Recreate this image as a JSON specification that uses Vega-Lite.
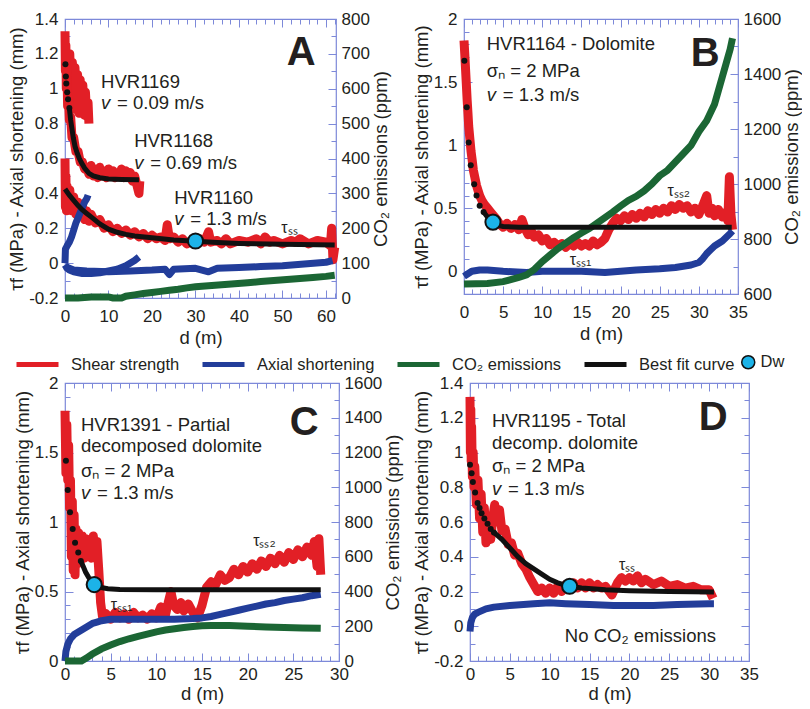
{
"$schema":"https://vega.github.io/schema/vega-lite/v6.json",
"padding":{"left":7,"top":9,"right":0,"bottom":0},
"background":"white",
"datasets":{
"Ared":[
{"s":"a","d":0.5,"v":1.22},{"s":"a","d":0.8,"v":1.05},{"s":"a","d":1.1,"v":1.2},{"s":"a","d":1.4,"v":0.95},{"s":"a","d":1.7,"v":1.15},{"s":"a","d":2.0,"v":0.9},{"s":"a","d":2.3,"v":1.12},{"s":"a","d":2.6,"v":0.88},{"s":"a","d":2.9,"v":1.08},{"s":"a","d":3.2,"v":0.86},{"s":"a","d":3.5,"v":1.05},{"s":"a","d":3.8,"v":0.86},{"s":"a","d":4.1,"v":1.02},{"s":"a","d":4.4,"v":0.85},{"s":"a","d":4.7,"v":0.98},{"s":"a","d":5.0,"v":0.84},{"s":"a","d":5.3,"v":0.92},{"s":"a","d":5.5,"v":0.8},
{"s":"b","d":0,"v":1.33},{"s":"b","d":0.1,"v":1.1},{"s":"b","d":0.2,"v":1.25},{"s":"b","d":0.3,"v":1.0},{"s":"b","d":0.45,"v":1.12},{"s":"b","d":0.6,"v":0.9},{"s":"b","d":0.8,"v":0.95},{"s":"b","d":1.0,"v":0.82},{"s":"b","d":1.3,"v":0.84},{"s":"b","d":1.6,"v":0.72},{"s":"b","d":2.0,"v":0.72},{"s":"b","d":2.5,"v":0.64},{"s":"b","d":3.0,"v":0.64},{"s":"b","d":3.5,"v":0.58},{"s":"b","d":4,"v":0.58},{"s":"b","d":4.5,"v":0.54},{"s":"b","d":5,"v":0.55},{"s":"b","d":5.5,"v":0.51},{"s":"b","d":6,"v":0.56},{"s":"b","d":6.5,"v":0.5},{"s":"b","d":7,"v":0.54},{"s":"b","d":7.5,"v":0.49},{"s":"b","d":8,"v":0.55},{"s":"b","d":8.5,"v":0.5},{"s":"b","d":9,"v":0.53},{"s":"b","d":9.5,"v":0.49},{"s":"b","d":10,"v":0.54},{"s":"b","d":10.5,"v":0.5},{"s":"b","d":11,"v":0.53},{"s":"b","d":11.5,"v":0.49},{"s":"b","d":12,"v":0.52},{"s":"b","d":12.5,"v":0.5},{"s":"b","d":13,"v":0.54},{"s":"b","d":13.5,"v":0.49},{"s":"b","d":14,"v":0.53},{"s":"b","d":14.5,"v":0.5},{"s":"b","d":15,"v":0.52},{"s":"b","d":15.5,"v":0.47},{"s":"b","d":16,"v":0.5},{"s":"b","d":16.5,"v":0.45},{"s":"b","d":17,"v":0.4},{"s":"b","d":17.2,"v":0.47},
{"s":"c","d":0,"v":0.6},{"s":"c","d":0.1,"v":0.32},{"s":"c","d":0.2,"v":0.5},{"s":"c","d":0.35,"v":0.3},{"s":"c","d":0.5,"v":0.44},{"s":"c","d":0.8,"v":0.33},{"s":"c","d":1.1,"v":0.42},{"s":"c","d":1.5,"v":0.3},{"s":"c","d":2,"v":0.38},{"s":"c","d":2.5,"v":0.28},{"s":"c","d":3,"v":0.35},{"s":"c","d":3.5,"v":0.27},{"s":"c","d":4,"v":0.33},{"s":"c","d":4.5,"v":0.25},{"s":"c","d":5,"v":0.3},{"s":"c","d":5.5,"v":0.24},{"s":"c","d":6,"v":0.28},{"s":"c","d":7,"v":0.23},{"s":"c","d":8,"v":0.25},{"s":"c","d":9,"v":0.2},{"s":"c","d":10,"v":0.22},{"s":"c","d":11,"v":0.18},{"s":"c","d":12,"v":0.2},{"s":"c","d":13,"v":0.17},{"s":"c","d":14,"v":0.19},{"s":"c","d":15,"v":0.16},{"s":"c","d":16,"v":0.18},{"s":"c","d":17,"v":0.15},{"s":"c","d":18,"v":0.17},{"s":"c","d":19,"v":0.14},{"s":"c","d":20,"v":0.16},{"s":"c","d":21,"v":0.14},{"s":"c","d":22,"v":0.15},{"s":"c","d":23,"v":0.13},{"s":"c","d":23.5,"v":0.22},{"s":"c","d":24,"v":0.14},{"s":"c","d":25,"v":0.15},{"s":"c","d":26,"v":0.12},{"s":"c","d":27,"v":0.14},{"s":"c","d":28,"v":0.11},{"s":"c","d":29,"v":0.13},{"s":"c","d":30,"v":0.11},{"s":"c","d":31,"v":0.14},{"s":"c","d":32,"v":0.12},{"s":"c","d":33,"v":0.18},{"s":"c","d":33.5,"v":0.12},{"s":"c","d":35,"v":0.13},{"s":"c","d":36,"v":0.11},{"s":"c","d":37,"v":0.14},{"s":"c","d":38,"v":0.11},{"s":"c","d":40,"v":0.13},{"s":"c","d":42,"v":0.12},{"s":"c","d":44,"v":0.14},{"s":"c","d":45,"v":0.11},{"s":"c","d":46,"v":0.15},{"s":"c","d":47,"v":0.12},{"s":"c","d":48,"v":0.13},{"s":"c","d":50,"v":0.11},{"s":"c","d":52,"v":0.13},{"s":"c","d":53,"v":0.12},{"s":"c","d":54,"v":0.14},{"s":"c","d":56,"v":0.11},{"s":"c","d":58,"v":0.13},{"s":"c","d":60,"v":0.12},{"s":"c","d":61,"v":0.1},{"s":"c","d":61.3,"v":0.2},{"s":"c","d":61.6,"v":0.02},{"s":"c","d":62,"v":0.09}],
"Ablue":[
{"s":"a","d":0,"v":0.0},{"s":"a","d":0.1,"v":0.08},{"s":"a","d":0.5,"v":0.1},{"s":"a","d":1,"v":0.12},{"s":"a","d":1.5,"v":0.15},{"s":"a","d":2,"v":0.19},{"s":"a","d":2.5,"v":0.23},{"s":"a","d":3,"v":0.26},{"s":"a","d":3.5,"v":0.29},{"s":"a","d":4,"v":0.32},{"s":"a","d":4.5,"v":0.35},{"s":"a","d":5,"v":0.37},{"s":"a","d":5.3,"v":0.39},
{"s":"b","d":0,"v":-0.01},{"s":"b","d":0.5,"v":-0.03},{"s":"b","d":1,"v":-0.04},{"s":"b","d":2,"v":-0.05},{"s":"b","d":4,"v":-0.06},{"s":"b","d":6,"v":-0.06},{"s":"b","d":8,"v":-0.055},{"s":"b","d":10,"v":-0.045},{"s":"b","d":12,"v":-0.035},{"s":"b","d":14,"v":-0.015},{"s":"b","d":16,"v":0.015},{"s":"b","d":17,"v":0.035},
{"s":"c","d":0,"v":-0.02},{"s":"c","d":2,"v":-0.04},{"s":"c","d":5,"v":-0.045},{"s":"c","d":10,"v":-0.05},{"s":"c","d":15,"v":-0.045},{"s":"c","d":20,"v":-0.04},{"s":"c","d":23,"v":-0.035},{"s":"c","d":24,"v":-0.065},{"s":"c","d":25,"v":-0.035},{"s":"c","d":30,"v":-0.03},{"s":"c","d":33,"v":-0.05},{"s":"c","d":35,"v":-0.03},{"s":"c","d":40,"v":-0.025},{"s":"c","d":45,"v":-0.02},{"s":"c","d":50,"v":-0.015},{"s":"c","d":55,"v":-0.005},{"s":"c","d":60,"v":0.005},{"s":"c","d":61.5,"v":0.015}],
"Agreen":[{"d":0,"v":0},{"d":3,"v":0},{"d":6,"v":3},{"d":10,"v":3},{"d":11,"v":0},{"d":13,"v":0},{"d":14,"v":5},{"d":16,"v":9},{"d":18,"v":13},{"d":20,"v":16},{"d":22,"v":19},{"d":24,"v":22},{"d":26,"v":25},{"d":28,"v":29},{"d":30,"v":32},{"d":33,"v":35},{"d":36,"v":38},{"d":39,"v":41},{"d":42,"v":44},{"d":45,"v":47},{"d":48,"v":50},{"d":51,"v":53},{"d":54,"v":56},{"d":57,"v":59},{"d":60,"v":62},{"d":62,"v":65}],
"Afit":[
{"s":"b","d":1.0,"v":0.89},{"s":"b","d":1.3,"v":0.82},{"s":"b","d":1.6,"v":0.77},{"s":"b","d":1.9,"v":0.72},{"s":"b","d":2.3,"v":0.67},{"s":"b","d":2.8,"v":0.63},{"s":"b","d":3.3,"v":0.6},{"s":"b","d":3.8,"v":0.575},{"s":"b","d":4.5,"v":0.545},{"s":"b","d":5.5,"v":0.515},{"s":"b","d":6.5,"v":0.5},{"s":"b","d":8,"v":0.49},{"s":"b","d":10,"v":0.483},{"s":"b","d":13,"v":0.48},{"s":"b","d":17,"v":0.478},
{"s":"c","d":0,"v":0.425},{"s":"c","d":1,"v":0.39},{"s":"c","d":2,"v":0.36},{"s":"c","d":3,"v":0.33},{"s":"c","d":4,"v":0.305},{"s":"c","d":5,"v":0.285},{"s":"c","d":6,"v":0.265},{"s":"c","d":7,"v":0.245},{"s":"c","d":8,"v":0.225},{"s":"c","d":10,"v":0.195},{"s":"c","d":12,"v":0.177},{"s":"c","d":14,"v":0.165},{"s":"c","d":16,"v":0.156},{"s":"c","d":20,"v":0.145},{"s":"c","d":25,"v":0.132},{"s":"c","d":30,"v":0.125},{"s":"c","d":35,"v":0.118},{"s":"c","d":40,"v":0.113},{"s":"c","d":50,"v":0.108},{"s":"c","d":62,"v":0.104}],
"Adots":[{"d":0.1,"v":1.14},{"d":0.2,"v":1.07},{"d":0.3,"v":1.03},{"d":0.5,"v":0.98},{"d":0.7,"v":0.94},{"d":1.0,"v":0.89}],
"Acyan":[{"d":30,"v":0.127}],
"Atxt":[{"t":"HVR1169","d":8.3,"v":1.04},{"t":"HVR1168","d":15.9,"v":0.70},{"t":"HVR1160","d":25.1,"v":0.374}],
"Avi":[{"d":8.3,"v":0.918},{"d":15.9,"v":0.574},{"d":25.1,"v":0.253}],
"Avr":[{"t":"= 0.09 m/s","d":8.3,"v":0.918},{"t":"= 0.69 m/s","d":15.9,"v":0.574},{"t":"= 1.3 m/s","d":25.1,"v":0.253}],
"Atau":[{"t":"τₛₛ","d":49.7,"v":0.2}],
"Alet":[{"t":"A","d":54.3,"v":1.205}],
"Bred":[{"d":0,"v":1.83},{"d":0.1,"v":1.72},{"d":0.2,"v":1.6},{"d":0.3,"v":1.48},{"d":0.4,"v":1.36},{"d":0.5,"v":1.26},{"d":0.6,"v":1.15},{"d":0.75,"v":1.05},{"d":0.9,"v":0.95},{"d":1.05,"v":0.88},{"d":1.2,"v":0.8},{"d":1.4,"v":0.74},{"d":1.6,"v":0.68},{"d":1.8,"v":0.64},{"d":2.0,"v":0.6},{"d":2.3,"v":0.56},{"d":2.6,"v":0.53},{"d":3.0,"v":0.5},{"d":3.4,"v":0.47},{"d":3.8,"v":0.44},{"d":4.2,"v":0.41},{"d":4.6,"v":0.37},{"d":5.0,"v":0.35},{"d":5.5,"v":0.38},{"d":6.0,"v":0.34},{"d":6.5,"v":0.37},{"d":7.0,"v":0.33},{"d":7.4,"v":0.41},{"d":7.8,"v":0.34},{"d":8.2,"v":0.29},{"d":8.6,"v":0.32},{"d":9.0,"v":0.27},{"d":9.5,"v":0.29},{"d":10,"v":0.24},{"d":10.5,"v":0.26},{"d":11,"v":0.21},{"d":11.5,"v":0.23},{"d":12,"v":0.2},{"d":12.5,"v":0.22},{"d":13,"v":0.19},{"d":13.5,"v":0.22},{"d":14,"v":0.2},{"d":14.5,"v":0.23},{"d":15,"v":0.2},{"d":15.5,"v":0.22},{"d":16,"v":0.2},{"d":16.5,"v":0.24},{"d":17,"v":0.21},{"d":17.5,"v":0.23},{"d":18,"v":0.26},{"d":18.5,"v":0.33},{"d":19,"v":0.38},{"d":19.5,"v":0.42},{"d":20,"v":0.4},{"d":20.5,"v":0.44},{"d":21,"v":0.41},{"d":21.5,"v":0.45},{"d":22,"v":0.42},{"d":22.5,"v":0.46},{"d":23,"v":0.43},{"d":23.5,"v":0.48},{"d":24,"v":0.45},{"d":24.5,"v":0.49},{"d":25,"v":0.46},{"d":25.5,"v":0.5},{"d":26,"v":0.47},{"d":26.5,"v":0.52},{"d":27,"v":0.49},{"d":27.5,"v":0.53},{"d":28,"v":0.5},{"d":28.5,"v":0.52},{"d":29,"v":0.47},{"d":29.5,"v":0.5},{"d":30,"v":0.45},{"d":30.5,"v":0.52},{"d":31,"v":0.6},{"d":31.3,"v":0.46},{"d":31.7,"v":0.5},{"d":32,"v":0.44},{"d":32.5,"v":0.49},{"d":33,"v":0.43},{"d":33.5,"v":0.47},{"d":33.7,"v":0.4},{"d":33.9,"v":0.75},{"d":34.1,"v":0.45},{"d":34.3,"v":0.33}],
"Bblue":[{"d":0,"v":-0.04},{"d":0.5,"v":-0.02},{"d":1,"v":0.0},{"d":2,"v":0.01},{"d":3,"v":0.01},{"d":5,"v":0.0},{"d":8,"v":-0.01},{"d":10,"v":0.0},{"d":15,"v":0.0},{"d":18,"v":-0.01},{"d":20,"v":0.0},{"d":22,"v":0.01},{"d":25,"v":0.02},{"d":27,"v":0.03},{"d":29,"v":0.05},{"d":30,"v":0.07},{"d":30.5,"v":0.1},{"d":31,"v":0.14},{"d":31.5,"v":0.17},{"d":32,"v":0.2},{"d":33,"v":0.24},{"d":33.5,"v":0.27},{"d":34,"v":0.3},{"d":34.3,"v":0.32}],
"Bgreen":[{"d":0,"v":636},{"d":3,"v":638},{"d":5,"v":645},{"d":7,"v":660},{"d":8,"v":670},{"d":9,"v":690},{"d":10,"v":718},{"d":11,"v":742},{"d":12,"v":765},{"d":13,"v":785},{"d":14,"v":805},{"d":15,"v":822},{"d":16,"v":838},{"d":17,"v":858},{"d":18,"v":878},{"d":19,"v":898},{"d":20,"v":920},{"d":21,"v":940},{"d":22,"v":955},{"d":23,"v":975},{"d":24,"v":1000},{"d":25,"v":1030},{"d":26,"v":1050},{"d":27,"v":1080},{"d":28,"v":1110},{"d":29,"v":1140},{"d":30,"v":1190},{"d":31,"v":1230},{"d":32,"v":1290},{"d":32.5,"v":1340},{"d":33,"v":1390},{"d":33.5,"v":1440},{"d":34,"v":1490},{"d":34.3,"v":1530}],
"Bfit":[{"d":2.5,"v":0.47},{"d":3.0,"v":0.43},{"d":3.7,"v":0.39},{"d":4.2,"v":0.365},{"d":5,"v":0.355},{"d":7,"v":0.35},{"d":34.2,"v":0.35}],
"Bdots":[{"d":0.05,"v":1.67},{"d":0.35,"v":1.3},{"d":0.6,"v":1.02},{"d":0.86,"v":0.84},{"d":1.3,"v":0.69},{"d":1.6,"v":0.6},{"d":2.0,"v":0.52},{"d":2.5,"v":0.47}],
"Bcyan":[{"d":3.7,"v":0.39}],
"Btxt":[{"t":"HVR1164 - Dolomite","d":2.9,"v":1.80},{"t":"σₙ = 2 MPa","d":2.9,"v":1.59}],
"Bvi":[{"d":2.9,"v":1.40}],
"Bvr":[{"t":"= 1.3 m/s","d":2.9,"v":1.40}],
"Btau":[{"t":"τₛₛ₂","d":26,"v":0.64},{"t":"τₛₛ₁","d":13.5,"v":0.09}],
"Blet":[{"t":"B","d":30.8,"v":1.72}],
"Cred":[{"d":0,"v":1.8},{"d":0.1,"v":1.35},{"d":0.2,"v":1.7},{"d":0.3,"v":1.3},{"d":0.4,"v":1.55},{"d":0.5,"v":1.1},{"d":0.6,"v":1.3},{"d":0.7,"v":0.75},{"d":0.8,"v":1.15},{"d":0.9,"v":0.65},{"d":1.0,"v":1.05},{"d":1.1,"v":0.62},{"d":1.2,"v":0.95},{"d":1.35,"v":0.7},{"d":1.5,"v":0.92},{"d":1.7,"v":0.72},{"d":1.9,"v":0.9},{"d":2.1,"v":0.74},{"d":2.3,"v":0.88},{"d":2.5,"v":0.76},{"d":2.7,"v":0.87},{"d":2.9,"v":0.74},{"d":3.1,"v":0.9},{"d":3.3,"v":0.78},{"d":3.5,"v":0.86},{"d":3.7,"v":0.65},{"d":3.9,"v":0.42},{"d":4.1,"v":0.32},{"d":4.5,"v":0.34},{"d":5,"v":0.3},{"d":5.5,"v":0.35},{"d":6,"v":0.31},{"d":6.5,"v":0.34},{"d":7,"v":0.3},{"d":7.5,"v":0.35},{"d":8,"v":0.31},{"d":8.5,"v":0.33},{"d":9,"v":0.3},{"d":9.5,"v":0.34},{"d":10,"v":0.31},{"d":10.5,"v":0.39},{"d":11,"v":0.33},{"d":11.3,"v":0.42},{"d":11.6,"v":0.5},{"d":11.9,"v":0.4},{"d":12.3,"v":0.37},{"d":12.7,"v":0.42},{"d":13,"v":0.36},{"d":13.5,"v":0.41},{"d":14,"v":0.35},{"d":14.5,"v":0.31},{"d":15,"v":0.4},{"d":15.5,"v":0.53},{"d":16,"v":0.57},{"d":16.5,"v":0.55},{"d":17,"v":0.62},{"d":17.5,"v":0.58},{"d":18,"v":0.6},{"d":18.5,"v":0.66},{"d":19,"v":0.62},{"d":19.5,"v":0.68},{"d":20,"v":0.64},{"d":20.5,"v":0.7},{"d":21,"v":0.66},{"d":21.5,"v":0.72},{"d":22,"v":0.68},{"d":22.5,"v":0.74},{"d":23,"v":0.7},{"d":23.5,"v":0.76},{"d":24,"v":0.71},{"d":24.5,"v":0.78},{"d":25,"v":0.73},{"d":25.5,"v":0.8},{"d":26,"v":0.75},{"d":26.5,"v":0.82},{"d":27,"v":0.76},{"d":27.3,"v":0.86},{"d":27.6,"v":0.68},{"d":27.8,"v":0.88},{"d":28,"v":0.62}],
"Cblue":[{"d":0,"v":0},{"d":0.1,"v":0.07},{"d":0.3,"v":0.12},{"d":0.6,"v":0.16},{"d":1,"v":0.19},{"d":1.5,"v":0.21},{"d":2,"v":0.23},{"d":2.5,"v":0.25},{"d":3,"v":0.27},{"d":3.5,"v":0.28},{"d":4,"v":0.29},{"d":5,"v":0.3},{"d":7,"v":0.3},{"d":10,"v":0.3},{"d":12,"v":0.3},{"d":14,"v":0.305},{"d":15,"v":0.31},{"d":16,"v":0.32},{"d":17,"v":0.335},{"d":18,"v":0.35},{"d":19,"v":0.365},{"d":20,"v":0.38},{"d":21,"v":0.395},{"d":22,"v":0.41},{"d":23,"v":0.42},{"d":24,"v":0.435},{"d":25,"v":0.445},{"d":26,"v":0.455},{"d":27,"v":0.47},{"d":28,"v":0.48}],
"Cgreen":[{"d":0,"v":0},{"d":1.8,"v":0},{"d":2.3,"v":15},{"d":3,"v":40},{"d":4,"v":70},{"d":5,"v":92},{"d":6,"v":112},{"d":7,"v":128},{"d":8,"v":142},{"d":9,"v":155},{"d":10,"v":168},{"d":11,"v":178},{"d":12,"v":186},{"d":13,"v":193},{"d":14,"v":199},{"d":15,"v":203},{"d":16,"v":205},{"d":17,"v":205},{"d":18,"v":204},{"d":20,"v":200},{"d":22,"v":196},{"d":24,"v":193},{"d":26,"v":190},{"d":28,"v":188}],
"Cfit":[{"d":1.73,"v":0.72},{"d":2.0,"v":0.68},{"d":2.25,"v":0.64},{"d":2.6,"v":0.6},{"d":3.2,"v":0.55},{"d":3.8,"v":0.53},{"d":4.7,"v":0.52},{"d":6,"v":0.515},{"d":10,"v":0.513},{"d":28,"v":0.512}],
"Cdots":[{"d":0.1,"v":1.44},{"d":0.3,"v":1.23},{"d":0.55,"v":1.07},{"d":0.84,"v":0.95},{"d":1.1,"v":0.85},{"d":1.45,"v":0.78},{"d":1.73,"v":0.72}],
"Ccyan":[{"d":3.2,"v":0.55}],
"Ctxt":[{"t":"HVR1391 - Partial","d":1.75,"v":1.70},{"t":"decomposed dolomite","d":1.75,"v":1.55},{"t":"σₙ = 2 MPa","d":1.75,"v":1.37}],
"Cvi":[{"d":1.75,"v":1.21}],
"Cvr":[{"t":"= 1.3 m/s","d":1.75,"v":1.21}],
"Ctau":[{"t":"τₛₛ₂","d":20.6,"v":0.86},{"t":"τₛₛ₁","d":5.0,"v":0.40}],
"Clet":[{"t":"C","d":26.2,"v":1.71}],
"Dred":[{"d":0,"v":1.32},{"d":0.05,"v":1.0},{"d":0.1,"v":1.25},{"d":0.15,"v":0.95},{"d":0.2,"v":1.15},{"d":0.3,"v":0.86},{"d":0.4,"v":1.0},{"d":0.5,"v":0.8},{"d":0.6,"v":0.92},{"d":0.8,"v":0.7},{"d":1.0,"v":0.84},{"d":1.2,"v":0.62},{"d":1.4,"v":0.76},{"d":1.6,"v":0.54},{"d":1.8,"v":0.68},{"d":2.0,"v":0.48},{"d":2.3,"v":0.62},{"d":2.6,"v":0.5},{"d":2.9,"v":0.64},{"d":3.1,"v":0.7},{"d":3.4,"v":0.6},{"d":3.7,"v":0.67},{"d":4.0,"v":0.55},{"d":4.4,"v":0.56},{"d":4.8,"v":0.47},{"d":5.2,"v":0.48},{"d":5.6,"v":0.41},{"d":6.0,"v":0.42},{"d":6.5,"v":0.36},{"d":7,"v":0.33},{"d":7.5,"v":0.28},{"d":8,"v":0.24},{"d":8.5,"v":0.2},{"d":9,"v":0.22},{"d":9.5,"v":0.19},{"d":10,"v":0.22},{"d":10.5,"v":0.19},{"d":11,"v":0.23},{"d":11.5,"v":0.2},{"d":12,"v":0.24},{"d":12.5,"v":0.21},{"d":13,"v":0.25},{"d":13.5,"v":0.22},{"d":14,"v":0.25},{"d":14.5,"v":0.22},{"d":15,"v":0.25},{"d":15.5,"v":0.22},{"d":16,"v":0.24},{"d":16.5,"v":0.22},{"d":17,"v":0.23},{"d":17.8,"v":0.18},{"d":18.5,"v":0.25},{"d":19,"v":0.28},{"d":19.5,"v":0.26},{"d":20,"v":0.28},{"d":20.5,"v":0.26},{"d":21,"v":0.29},{"d":21.5,"v":0.25},{"d":22,"v":0.27},{"d":23,"v":0.24},{"d":24,"v":0.26},{"d":25,"v":0.23},{"d":26,"v":0.24},{"d":27,"v":0.22},{"d":28,"v":0.23},{"d":29,"v":0.21},{"d":30,"v":0.21},{"d":30.5,"v":0.16}],
"Dblue":[{"d":0,"v":-0.03},{"d":0.1,"v":0.02},{"d":0.3,"v":0.05},{"d":0.6,"v":0.07},{"d":1,"v":0.08},{"d":2,"v":0.1},{"d":3,"v":0.11},{"d":5,"v":0.12},{"d":8,"v":0.13},{"d":10,"v":0.135},{"d":12,"v":0.13},{"d":15,"v":0.125},{"d":18,"v":0.12},{"d":20,"v":0.12},{"d":23,"v":0.12},{"d":26,"v":0.125},{"d":30,"v":0.13},{"d":30.6,"v":0.13}],
"Dfit":[{"d":3,"v":0.54},{"d":4,"v":0.5},{"d":5,"v":0.45},{"d":6,"v":0.4},{"d":7,"v":0.36},{"d":8,"v":0.33},{"d":9,"v":0.3},{"d":10,"v":0.27},{"d":11,"v":0.25},{"d":12.5,"v":0.23},{"d":14,"v":0.22},{"d":17,"v":0.21},{"d":20,"v":0.205},{"d":25,"v":0.2},{"d":30.6,"v":0.197}],
"Ddots":[{"d":0,"v":0.93},{"d":0.2,"v":0.88},{"d":0.36,"v":0.83},{"d":0.64,"v":0.77},{"d":0.95,"v":0.71},{"d":1.2,"v":0.68},{"d":1.45,"v":0.65},{"d":1.8,"v":0.62},{"d":2.2,"v":0.59},{"d":2.6,"v":0.56},{"d":3.0,"v":0.54}],
"Dcyan":[{"d":12.5,"v":0.23}],
"Dtxt":[{"t":"HVR1195 - Total","d":2.75,"v":1.18},{"t":"decomp. dolomite","d":2.75,"v":1.055},{"t":"σₙ = 2 MPa","d":2.75,"v":0.92},{"t":"No CO₂ emissions","d":11.9,"v":-0.055}],
"Dvi":[{"d":2.75,"v":0.79}],
"Dvr":[{"t":"= 1.3 m/s","d":2.75,"v":0.79}],
"Dtau":[{"t":"τₛₛ","d":18.7,"v":0.35}],
"Dlet":[{"t":"D","d":30.5,"v":1.2}]
},
"vconcat":[
{"hconcat":[
{"width":271,"height":279,
"resolve":{"scale":{"y":"independent"},"axis":{"x":"independent","y":"independent"}},
"layer":[
{"data":{"name":"Ared"},"mark":{"type":"line","strokeWidth":9,"strokeJoin":"round"},
"encoding":{
"x":{"field":"d","type":"quantitative","scale":{"domain":[0,62.3],"nice":false,"zero":false},"axis":{"orient":"bottom","values":[0,10,20,30,40,50,60],"tickSize":-8,"labelPadding":18,"labelExpr":"'' + datum.value","title":"d (m)","titlePadding":4}},
"y":{"field":"v","type":"quantitative","scale":{"domain":[-0.2,1.4],"nice":false,"zero":false},"axis":{"orient":"left","values":[-0.2,0,0.2,0.4,0.6,0.8,1,1.2,1.4],"tickSize":-8,"labelPadding":15,"labelExpr":"'' + datum.value","title":"τf (MPa) - Axial shortening (mm)","titlePadding":2}},
"detail":{"field":"s"},
"color":{"datum":"Shear strength","scale":{"domain":["Shear strength","Axial shortening","CO₂ emissions","Best fit curve"],"range":["#e21f26","#223d9a","#1b6634","#111111"]},
"legend":{"orient":"none","legendX":-51,"legendY":322,"direction":"horizontal","gridAlign":"none","title":null,"symbolType":"stroke","symbolSize":1764,"symbolStrokeWidth":5,"labelFontSize":16.5,"labelFont":"Liberation Sans","labelColor":"#231f20","labelOffset":10,"columnPadding":12,"padding":0}}}},
{"data":{"name":"Ablue"},"mark":{"type":"line","strokeWidth":7,"strokeJoin":"round"},
"encoding":{
"x":{"field":"d","type":"quantitative","scale":{"domain":[0,62.3],"nice":false,"zero":false},"axis":{"orient":"top","values":[0,10,20,30,40,50,60],"tickSize":-8,"labels":false,"title":null}},
"y":{"field":"v","type":"quantitative","scale":{"domain":[-0.2,1.4],"nice":false,"zero":false},"axis":{"orient":"left","values":[-0.2,-0.1,0,0.1,0.2,0.3,0.4,0.5,0.6,0.7,0.8,0.9,1,1.1,1.2,1.3,1.4],"tickSize":-5,"labels":false,"title":null}},
"detail":{"field":"s"},
"color":{"datum":"Axial shortening","scale":{"domain":["Shear strength","Axial shortening","CO₂ emissions","Best fit curve"],"range":["#e21f26","#223d9a","#1b6634","#111111"]}}}},
{"data":{"name":"Agreen"},"mark":{"type":"line","strokeWidth":7},
"encoding":{
"x":{"field":"d","type":"quantitative","scale":{"domain":[0,62.3],"nice":false,"zero":false},"axis":{"orient":"bottom","values":[0,2,4,6,8,10,12,14,16,18,20,22,24,26,28,30,32,34,36,38,40,42,44,46,48,50,52,54,56,58,60,62],"tickSize":-5,"labels":false,"title":null}},
"y":{"field":"v","type":"quantitative","scale":{"domain":[0,800],"nice":false,"zero":false},"axis":{"orient":"right","values":[0,100,200,300,400,500,600,700,800],"tickSize":-8,"labelPadding":13,"labelExpr":"'' + datum.value","title":"CO₂ emissions (ppm)","titleAngle":270,"titleBaseline":"top","titlePadding":2}},
"color":{"datum":"CO₂ emissions","scale":{"domain":["Shear strength","Axial shortening","CO₂ emissions","Best fit curve"],"range":["#e21f26","#223d9a","#1b6634","#111111"]}}}},
{"data":{"name":"Agreen"},"mark":{"type":"line","opacity":0},
"encoding":{
"x":{"field":"d","type":"quantitative","scale":{"domain":[0,62.3],"nice":false,"zero":false},"axis":{"orient":"top","values":[0,2,4,6,8,10,12,14,16,18,20,22,24,26,28,30,32,34,36,38,40,42,44,46,48,50,52,54,56,58,60,62],"tickSize":-5,"labels":false,"title":null}},
"y":{"field":"v","type":"quantitative","scale":{"domain":[0,800],"nice":false,"zero":false},"axis":{"orient":"right","values":[0,50,100,150,200,250,300,350,400,450,500,550,600,650,700,750,800],"tickSize":-5,"labels":false,"title":null}}}},
{"data":{"name":"Afit"},"mark":{"type":"line","strokeWidth":5},
"encoding":{
"x":{"field":"d","type":"quantitative","scale":{"domain":[0,62.3],"nice":false,"zero":false},"axis":null},
"y":{"field":"v","type":"quantitative","scale":{"domain":[-0.2,1.4],"nice":false,"zero":false},"axis":null},
"detail":{"field":"s"},
"color":{"datum":"Best fit curve","scale":{"domain":["Shear strength","Axial shortening","CO₂ emissions","Best fit curve"],"range":["#e21f26","#223d9a","#1b6634","#111111"]}}}},
{"data":{"name":"Adots"},"mark":{"type":"point","filled":true,"size":36,"opacity":1,"fill":"#111111"},
"encoding":{
"x":{"field":"d","type":"quantitative","scale":{"domain":[0,62.3],"nice":false,"zero":false},"axis":null},
"y":{"field":"v","type":"quantitative","scale":{"domain":[-0.2,1.4],"nice":false,"zero":false},"axis":null}}},
{"data":{"name":"Acyan"},"mark":{"type":"point","filled":true,"size":230,"opacity":1,"fill":"#1cb3e8","stroke":"#111111","strokeWidth":2},
"encoding":{
"x":{"field":"d","type":"quantitative","scale":{"domain":[0,62.3],"nice":false,"zero":false},"axis":null},
"y":{"field":"v","type":"quantitative","scale":{"domain":[-0.2,1.4],"nice":false,"zero":false},"axis":null},
"shape":{"datum":"Dw","scale":{"domain":["Dw"],"range":["circle"]},
"legend":{"orient":"none","legendX":675,"legendY":335,"title":null,"symbolSize":170,"labelFontSize":16.5,"labelFont":"Liberation Sans","labelColor":"#231f20","labelOffset":4,"padding":0}}}},
{"data":{"name":"Atxt"},"mark":{"type":"text","font":"Liberation Sans","fontSize":18.5,"align":"left","baseline":"middle","color":"#231f20"},
"encoding":{"x":{"field":"d","type":"quantitative","scale":{"domain":[0,62.3],"nice":false,"zero":false},"axis":null},"y":{"field":"v","type":"quantitative","scale":{"domain":[-0.2,1.4],"nice":false,"zero":false},"axis":null},"text":{"field":"t"}}},
{"data":{"name":"Avi"},"mark":{"type":"text","font":"Liberation Sans","fontSize":18.5,"fontStyle":"italic","align":"left","baseline":"middle","color":"#231f20"},
"encoding":{"x":{"field":"d","type":"quantitative","scale":{"domain":[0,62.3],"nice":false,"zero":false},"axis":null},"y":{"field":"v","type":"quantitative","scale":{"domain":[-0.2,1.4],"nice":false,"zero":false},"axis":null},"text":{"value":"v"}}},
{"data":{"name":"Avr"},"mark":{"type":"text","font":"Liberation Sans","fontSize":18.5,"align":"left","baseline":"middle","dx":16,"color":"#231f20"},
"encoding":{"x":{"field":"d","type":"quantitative","scale":{"domain":[0,62.3],"nice":false,"zero":false},"axis":null},"y":{"field":"v","type":"quantitative","scale":{"domain":[-0.2,1.4],"nice":false,"zero":false},"axis":null},"text":{"field":"t"}}},
{"data":{"name":"Atau"},"mark":{"type":"text","font":"Liberation Sans","fontSize":16,"align":"left","baseline":"middle","color":"#231f20"},
"encoding":{"x":{"field":"d","type":"quantitative","scale":{"domain":[0,62.3],"nice":false,"zero":false},"axis":null},"y":{"field":"v","type":"quantitative","scale":{"domain":[-0.2,1.4],"nice":false,"zero":false},"axis":null},"text":{"field":"t"}}},
{"data":{"name":"Alet"},"mark":{"type":"text","font":"Liberation Sans","fontSize":40,"fontWeight":"bold","align":"center","baseline":"middle","color":"#231f20"},
"encoding":{"x":{"field":"d","type":"quantitative","scale":{"domain":[0,62.3],"nice":false,"zero":false},"axis":null},"y":{"field":"v","type":"quantitative","scale":{"domain":[-0.2,1.4],"nice":false,"zero":false},"axis":null},"text":{"field":"t"}}}
]},
{"width":274,"height":275,
"resolve":{"scale":{"y":"independent"},"axis":{"x":"independent","y":"independent"}},
"layer":[
{"data":{"name":"Bred"},"mark":{"type":"line","strokeWidth":9,"strokeJoin":"round"},
"encoding":{
"x":{"field":"d","type":"quantitative","scale":{"domain":[0,35],"nice":false,"zero":false},"axis":{"orient":"bottom","values":[0,5,10,15,20,25,30,35],"tickSize":-8,"labelPadding":18,"labelExpr":"'' + datum.value","title":"d (m)","titlePadding":4}},
"y":{"field":"v","type":"quantitative","scale":{"domain":[-0.18,2],"nice":false,"zero":false},"axis":{"orient":"left","values":[0,0.5,1,1.5,2],"tickSize":-8,"labelPadding":15,"labelExpr":"'' + datum.value","title":"τf (MPa) - Axial shortening (mm)","titlePadding":2}},
"color":{"datum":"Shear strength","scale":{"domain":["Shear strength","Axial shortening","CO₂ emissions","Best fit curve"],"range":["#e21f26","#223d9a","#1b6634","#111111"]}}}},
{"data":{"name":"Bblue"},"mark":{"type":"line","strokeWidth":7,"strokeJoin":"round"},
"encoding":{
"x":{"field":"d","type":"quantitative","scale":{"domain":[0,35],"nice":false,"zero":false},"axis":{"orient":"top","values":[0,5,10,15,20,25,30,35],"tickSize":-8,"labels":false,"title":null}},
"y":{"field":"v","type":"quantitative","scale":{"domain":[-0.18,2],"nice":false,"zero":false},"axis":{"orient":"left","values":[-0.1,0,0.1,0.2,0.3,0.4,0.5,0.6,0.7,0.8,0.9,1,1.1,1.2,1.3,1.4,1.5,1.6,1.7,1.8,1.9,2],"tickSize":-5,"labels":false,"title":null}},
"color":{"datum":"Axial shortening","scale":{"domain":["Shear strength","Axial shortening","CO₂ emissions","Best fit curve"],"range":["#e21f26","#223d9a","#1b6634","#111111"]}}}},
{"data":{"name":"Bgreen"},"mark":{"type":"line","strokeWidth":7},
"encoding":{
"x":{"field":"d","type":"quantitative","scale":{"domain":[0,35],"nice":false,"zero":false},"axis":{"orient":"bottom","values":[0,1,2,3,4,5,6,7,8,9,10,11,12,13,14,15,16,17,18,19,20,21,22,23,24,25,26,27,28,29,30,31,32,33,34,35],"tickSize":-5,"labels":false,"title":null}},
"y":{"field":"v","type":"quantitative","scale":{"domain":[600,1600],"nice":false,"zero":false},"axis":{"orient":"right","values":[600,800,1000,1200,1400,1600],"tickSize":-8,"labelPadding":13,"labelExpr":"'' + datum.value","title":"CO₂ emissions (ppm)","titleAngle":270,"titleBaseline":"top","titlePadding":2}},
"color":{"datum":"CO₂ emissions","scale":{"domain":["Shear strength","Axial shortening","CO₂ emissions","Best fit curve"],"range":["#e21f26","#223d9a","#1b6634","#111111"]}}}},
{"data":{"name":"Bgreen"},"mark":{"type":"line","opacity":0},
"encoding":{
"x":{"field":"d","type":"quantitative","scale":{"domain":[0,35],"nice":false,"zero":false},"axis":{"orient":"top","values":[0,1,2,3,4,5,6,7,8,9,10,11,12,13,14,15,16,17,18,19,20,21,22,23,24,25,26,27,28,29,30,31,32,33,34,35],"tickSize":-5,"labels":false,"title":null}},
"y":{"field":"v","type":"quantitative","scale":{"domain":[600,1600],"nice":false,"zero":false},"axis":{"orient":"right","values":[600,700,800,900,1000,1100,1200,1300,1400,1500,1600],"tickSize":-5,"labels":false,"title":null}}}},
{"data":{"name":"Bfit"},"mark":{"type":"line","strokeWidth":5},
"encoding":{
"x":{"field":"d","type":"quantitative","scale":{"domain":[0,35],"nice":false,"zero":false},"axis":null},
"y":{"field":"v","type":"quantitative","scale":{"domain":[-0.18,2],"nice":false,"zero":false},"axis":null},
"color":{"datum":"Best fit curve","scale":{"domain":["Shear strength","Axial shortening","CO₂ emissions","Best fit curve"],"range":["#e21f26","#223d9a","#1b6634","#111111"]}}}},
{"data":{"name":"Bdots"},"mark":{"type":"point","filled":true,"size":36,"opacity":1,"fill":"#111111"},
"encoding":{
"x":{"field":"d","type":"quantitative","scale":{"domain":[0,35],"nice":false,"zero":false},"axis":null},
"y":{"field":"v","type":"quantitative","scale":{"domain":[-0.18,2],"nice":false,"zero":false},"axis":null}}},
{"data":{"name":"Bcyan"},"mark":{"type":"point","filled":true,"size":230,"opacity":1,"fill":"#1cb3e8","stroke":"#111111","strokeWidth":2},
"encoding":{
"x":{"field":"d","type":"quantitative","scale":{"domain":[0,35],"nice":false,"zero":false},"axis":null},
"y":{"field":"v","type":"quantitative","scale":{"domain":[-0.18,2],"nice":false,"zero":false},"axis":null},
"shape":{"datum":"Dw","scale":{"domain":["Dw"],"range":["circle"]}}}},
{"data":{"name":"Btxt"},"mark":{"type":"text","font":"Liberation Sans","fontSize":18.5,"align":"left","baseline":"middle","color":"#231f20"},
"encoding":{"x":{"field":"d","type":"quantitative","scale":{"domain":[0,35],"nice":false,"zero":false},"axis":null},"y":{"field":"v","type":"quantitative","scale":{"domain":[-0.18,2],"nice":false,"zero":false},"axis":null},"text":{"field":"t"}}},
{"data":{"name":"Bvi"},"mark":{"type":"text","font":"Liberation Sans","fontSize":18.5,"fontStyle":"italic","align":"left","baseline":"middle","color":"#231f20"},
"encoding":{"x":{"field":"d","type":"quantitative","scale":{"domain":[0,35],"nice":false,"zero":false},"axis":null},"y":{"field":"v","type":"quantitative","scale":{"domain":[-0.18,2],"nice":false,"zero":false},"axis":null},"text":{"value":"v"}}},
{"data":{"name":"Bvr"},"mark":{"type":"text","font":"Liberation Sans","fontSize":18.5,"align":"left","baseline":"middle","dx":16,"color":"#231f20"},
"encoding":{"x":{"field":"d","type":"quantitative","scale":{"domain":[0,35],"nice":false,"zero":false},"axis":null},"y":{"field":"v","type":"quantitative","scale":{"domain":[-0.18,2],"nice":false,"zero":false},"axis":null},"text":{"field":"t"}}},
{"data":{"name":"Btau"},"mark":{"type":"text","font":"Liberation Sans","fontSize":16,"align":"left","baseline":"middle","color":"#231f20"},
"encoding":{"x":{"field":"d","type":"quantitative","scale":{"domain":[0,35],"nice":false,"zero":false},"axis":null},"y":{"field":"v","type":"quantitative","scale":{"domain":[-0.18,2],"nice":false,"zero":false},"axis":null},"text":{"field":"t"}}},
{"data":{"name":"Blet"},"mark":{"type":"text","font":"Liberation Sans","fontSize":40,"fontWeight":"bold","align":"center","baseline":"middle","color":"#231f20"},
"encoding":{"x":{"field":"d","type":"quantitative","scale":{"domain":[0,35],"nice":false,"zero":false},"axis":null},"y":{"field":"v","type":"quantitative","scale":{"domain":[-0.18,2],"nice":false,"zero":false},"axis":null},"text":{"field":"t"}}}
]}
],"spacing":20},
{"hconcat":[
{"width":274,"height":278,
"resolve":{"scale":{"y":"independent"},"axis":{"x":"independent","y":"independent"}},
"layer":[
{"data":{"name":"Cred"},"mark":{"type":"line","strokeWidth":9,"strokeJoin":"round"},
"encoding":{
"x":{"field":"d","type":"quantitative","scale":{"domain":[0,30],"nice":false,"zero":false},"axis":{"orient":"bottom","values":[0,5,10,15,20,25,30],"tickSize":-8,"labelPadding":13,"labelExpr":"'' + datum.value","title":"d (m)","titlePadding":2}},
"y":{"field":"v","type":"quantitative","scale":{"domain":[0,2],"nice":false,"zero":false},"axis":{"orient":"left","values":[0,0.5,1,1.5,2],"tickSize":-8,"labelPadding":15,"labelExpr":"'' + datum.value","title":"τf (MPa) - Axial shortening (mm)","titlePadding":2}},
"color":{"datum":"Shear strength","scale":{"domain":["Shear strength","Axial shortening","CO₂ emissions","Best fit curve"],"range":["#e21f26","#223d9a","#1b6634","#111111"]}}}},
{"data":{"name":"Cblue"},"mark":{"type":"line","strokeWidth":7,"strokeJoin":"round"},
"encoding":{
"x":{"field":"d","type":"quantitative","scale":{"domain":[0,30],"nice":false,"zero":false},"axis":{"orient":"top","values":[0,5,10,15,20,25,30],"tickSize":-8,"labels":false,"title":null}},
"y":{"field":"v","type":"quantitative","scale":{"domain":[0,2],"nice":false,"zero":false},"axis":{"orient":"left","values":[0,0.1,0.2,0.3,0.4,0.5,0.6,0.7,0.8,0.9,1,1.1,1.2,1.3,1.4,1.5,1.6,1.7,1.8,1.9,2],"tickSize":-5,"labels":false,"title":null}},
"color":{"datum":"Axial shortening","scale":{"domain":["Shear strength","Axial shortening","CO₂ emissions","Best fit curve"],"range":["#e21f26","#223d9a","#1b6634","#111111"]}}}},
{"data":{"name":"Cgreen"},"mark":{"type":"line","strokeWidth":7},
"encoding":{
"x":{"field":"d","type":"quantitative","scale":{"domain":[0,30],"nice":false,"zero":false},"axis":{"orient":"bottom","values":[0,1,2,3,4,5,6,7,8,9,10,11,12,13,14,15,16,17,18,19,20,21,22,23,24,25,26,27,28,29,30],"tickSize":-5,"labels":false,"title":null}},
"y":{"field":"v","type":"quantitative","scale":{"domain":[0,1600],"nice":false,"zero":false},"axis":{"orient":"right","values":[0,200,400,600,800,1000,1200,1400,1600],"tickSize":-8,"labelPadding":13,"labelExpr":"'' + datum.value","title":"CO₂ emissions (ppm)","titleAngle":270,"titleBaseline":"top","titlePadding":2}},
"color":{"datum":"CO₂ emissions","scale":{"domain":["Shear strength","Axial shortening","CO₂ emissions","Best fit curve"],"range":["#e21f26","#223d9a","#1b6634","#111111"]}}}},
{"data":{"name":"Cgreen"},"mark":{"type":"line","opacity":0},
"encoding":{
"x":{"field":"d","type":"quantitative","scale":{"domain":[0,30],"nice":false,"zero":false},"axis":{"orient":"top","values":[0,1,2,3,4,5,6,7,8,9,10,11,12,13,14,15,16,17,18,19,20,21,22,23,24,25,26,27,28,29,30],"tickSize":-5,"labels":false,"title":null}},
"y":{"field":"v","type":"quantitative","scale":{"domain":[0,1600],"nice":false,"zero":false},"axis":{"orient":"right","values":[0,100,200,300,400,500,600,700,800,900,1000,1100,1200,1300,1400,1500,1600],"tickSize":-5,"labels":false,"title":null}}}},
{"data":{"name":"Cfit"},"mark":{"type":"line","strokeWidth":5},
"encoding":{
"x":{"field":"d","type":"quantitative","scale":{"domain":[0,30],"nice":false,"zero":false},"axis":null},
"y":{"field":"v","type":"quantitative","scale":{"domain":[0,2],"nice":false,"zero":false},"axis":null},
"color":{"datum":"Best fit curve","scale":{"domain":["Shear strength","Axial shortening","CO₂ emissions","Best fit curve"],"range":["#e21f26","#223d9a","#1b6634","#111111"]}}}},
{"data":{"name":"Cdots"},"mark":{"type":"point","filled":true,"size":36,"opacity":1,"fill":"#111111"},
"encoding":{
"x":{"field":"d","type":"quantitative","scale":{"domain":[0,30],"nice":false,"zero":false},"axis":null},
"y":{"field":"v","type":"quantitative","scale":{"domain":[0,2],"nice":false,"zero":false},"axis":null}}},
{"data":{"name":"Ccyan"},"mark":{"type":"point","filled":true,"size":230,"opacity":1,"fill":"#1cb3e8","stroke":"#111111","strokeWidth":2},
"encoding":{
"x":{"field":"d","type":"quantitative","scale":{"domain":[0,30],"nice":false,"zero":false},"axis":null},
"y":{"field":"v","type":"quantitative","scale":{"domain":[0,2],"nice":false,"zero":false},"axis":null},
"shape":{"datum":"Dw","scale":{"domain":["Dw"],"range":["circle"]}}}},
{"data":{"name":"Ctxt"},"mark":{"type":"text","font":"Liberation Sans","fontSize":18.5,"align":"left","baseline":"middle","color":"#231f20"},
"encoding":{"x":{"field":"d","type":"quantitative","scale":{"domain":[0,30],"nice":false,"zero":false},"axis":null},"y":{"field":"v","type":"quantitative","scale":{"domain":[0,2],"nice":false,"zero":false},"axis":null},"text":{"field":"t"}}},
{"data":{"name":"Cvi"},"mark":{"type":"text","font":"Liberation Sans","fontSize":18.5,"fontStyle":"italic","align":"left","baseline":"middle","color":"#231f20"},
"encoding":{"x":{"field":"d","type":"quantitative","scale":{"domain":[0,30],"nice":false,"zero":false},"axis":null},"y":{"field":"v","type":"quantitative","scale":{"domain":[0,2],"nice":false,"zero":false},"axis":null},"text":{"value":"v"}}},
{"data":{"name":"Cvr"},"mark":{"type":"text","font":"Liberation Sans","fontSize":18.5,"align":"left","baseline":"middle","dx":16,"color":"#231f20"},
"encoding":{"x":{"field":"d","type":"quantitative","scale":{"domain":[0,30],"nice":false,"zero":false},"axis":null},"y":{"field":"v","type":"quantitative","scale":{"domain":[0,2],"nice":false,"zero":false},"axis":null},"text":{"field":"t"}}},
{"data":{"name":"Ctau"},"mark":{"type":"text","font":"Liberation Sans","fontSize":16,"align":"left","baseline":"middle","color":"#231f20"},
"encoding":{"x":{"field":"d","type":"quantitative","scale":{"domain":[0,30],"nice":false,"zero":false},"axis":null},"y":{"field":"v","type":"quantitative","scale":{"domain":[0,2],"nice":false,"zero":false},"axis":null},"text":{"field":"t"}}},
{"data":{"name":"Clet"},"mark":{"type":"text","font":"Liberation Sans","fontSize":40,"fontWeight":"bold","align":"center","baseline":"middle","color":"#231f20"},
"encoding":{"x":{"field":"d","type":"quantitative","scale":{"domain":[0,30],"nice":false,"zero":false},"axis":null},"y":{"field":"v","type":"quantitative","scale":{"domain":[0,2],"nice":false,"zero":false},"axis":null},"text":{"field":"t"}}}
]},
{"width":279,"height":278,
"resolve":{"scale":{"y":"independent"},"axis":{"x":"independent","y":"independent"}},
"layer":[
{"data":{"name":"Dred"},"mark":{"type":"line","strokeWidth":9,"strokeJoin":"round"},
"encoding":{
"x":{"field":"d","type":"quantitative","scale":{"domain":[0,35],"nice":false,"zero":false},"axis":{"orient":"bottom","values":[0,5,10,15,20,25,30,35],"tickSize":-8,"labelPadding":13,"labelExpr":"'' + datum.value","title":"d (m)","titlePadding":2}},
"y":{"field":"v","type":"quantitative","scale":{"domain":[-0.2,1.4],"nice":false,"zero":false},"axis":{"orient":"left","values":[-0.2,0,0.2,0.4,0.6,0.8,1,1.2,1.4],"tickSize":-8,"labelPadding":15,"labelExpr":"'' + datum.value","title":"τf (MPa) - Axial shortening (mm)","titlePadding":2}},
"color":{"datum":"Shear strength","scale":{"domain":["Shear strength","Axial shortening","CO₂ emissions","Best fit curve"],"range":["#e21f26","#223d9a","#1b6634","#111111"]}}}},
{"data":{"name":"Dblue"},"mark":{"type":"line","strokeWidth":7,"strokeJoin":"round"},
"encoding":{
"x":{"field":"d","type":"quantitative","scale":{"domain":[0,35],"nice":false,"zero":false},"axis":{"orient":"top","values":[0,5,10,15,20,25,30,35],"tickSize":-8,"labels":false,"title":null}},
"y":{"field":"v","type":"quantitative","scale":{"domain":[-0.2,1.4],"nice":false,"zero":false},"axis":{"orient":"left","values":[-0.2,-0.1,0,0.1,0.2,0.3,0.4,0.5,0.6,0.7,0.8,0.9,1,1.1,1.2,1.3,1.4],"tickSize":-5,"labels":false,"title":null}},
"color":{"datum":"Axial shortening","scale":{"domain":["Shear strength","Axial shortening","CO₂ emissions","Best fit curve"],"range":["#e21f26","#223d9a","#1b6634","#111111"]}}}},
{"data":{"name":"Dfit"},"mark":{"type":"line","strokeWidth":5},
"encoding":{
"x":{"field":"d","type":"quantitative","scale":{"domain":[0,35],"nice":false,"zero":false},"axis":{"orient":"bottom","values":[0,1,2,3,4,5,6,7,8,9,10,11,12,13,14,15,16,17,18,19,20,21,22,23,24,25,26,27,28,29,30,31,32,33,34,35],"tickSize":-5,"labels":false,"title":null}},
"y":{"field":"v","type":"quantitative","scale":{"domain":[-0.2,1.4],"nice":false,"zero":false},"axis":{"orient":"right","values":[-0.2,0,0.2,0.4,0.6,0.8,1,1.2,1.4],"tickSize":-8,"labels":false,"title":null}},
"color":{"datum":"Best fit curve","scale":{"domain":["Shear strength","Axial shortening","CO₂ emissions","Best fit curve"],"range":["#e21f26","#223d9a","#1b6634","#111111"]}}}},
{"data":{"name":"Ddots"},"mark":{"type":"point","filled":true,"size":36,"opacity":1,"fill":"#111111"},
"encoding":{
"x":{"field":"d","type":"quantitative","scale":{"domain":[0,35],"nice":false,"zero":false},"axis":{"orient":"top","values":[0,1,2,3,4,5,6,7,8,9,10,11,12,13,14,15,16,17,18,19,20,21,22,23,24,25,26,27,28,29,30,31,32,33,34,35],"tickSize":-5,"labels":false,"title":null}},
"y":{"field":"v","type":"quantitative","scale":{"domain":[-0.2,1.4],"nice":false,"zero":false},"axis":{"orient":"right","values":[-0.2,-0.1,0,0.1,0.2,0.3,0.4,0.5,0.6,0.7,0.8,0.9,1,1.1,1.2,1.3,1.4],"tickSize":-5,"labels":false,"title":null}}}},
{"data":{"name":"Dcyan"},"mark":{"type":"point","filled":true,"size":230,"opacity":1,"fill":"#1cb3e8","stroke":"#111111","strokeWidth":2},
"encoding":{
"x":{"field":"d","type":"quantitative","scale":{"domain":[0,35],"nice":false,"zero":false},"axis":null},
"y":{"field":"v","type":"quantitative","scale":{"domain":[-0.2,1.4],"nice":false,"zero":false},"axis":null},
"shape":{"datum":"Dw","scale":{"domain":["Dw"],"range":["circle"]}}}},
{"data":{"name":"Dtxt"},"mark":{"type":"text","font":"Liberation Sans","fontSize":18.5,"align":"left","baseline":"middle","color":"#231f20"},
"encoding":{"x":{"field":"d","type":"quantitative","scale":{"domain":[0,35],"nice":false,"zero":false},"axis":null},"y":{"field":"v","type":"quantitative","scale":{"domain":[-0.2,1.4],"nice":false,"zero":false},"axis":null},"text":{"field":"t"}}},
{"data":{"name":"Dvi"},"mark":{"type":"text","font":"Liberation Sans","fontSize":18.5,"fontStyle":"italic","align":"left","baseline":"middle","color":"#231f20"},
"encoding":{"x":{"field":"d","type":"quantitative","scale":{"domain":[0,35],"nice":false,"zero":false},"axis":null},"y":{"field":"v","type":"quantitative","scale":{"domain":[-0.2,1.4],"nice":false,"zero":false},"axis":null},"text":{"value":"v"}}},
{"data":{"name":"Dvr"},"mark":{"type":"text","font":"Liberation Sans","fontSize":18.5,"align":"left","baseline":"middle","dx":16,"color":"#231f20"},
"encoding":{"x":{"field":"d","type":"quantitative","scale":{"domain":[0,35],"nice":false,"zero":false},"axis":null},"y":{"field":"v","type":"quantitative","scale":{"domain":[-0.2,1.4],"nice":false,"zero":false},"axis":null},"text":{"field":"t"}}},
{"data":{"name":"Dtau"},"mark":{"type":"text","font":"Liberation Sans","fontSize":16,"align":"left","baseline":"middle","color":"#231f20"},
"encoding":{"x":{"field":"d","type":"quantitative","scale":{"domain":[0,35],"nice":false,"zero":false},"axis":null},"y":{"field":"v","type":"quantitative","scale":{"domain":[-0.2,1.4],"nice":false,"zero":false},"axis":null},"text":{"field":"t"}}},
{"data":{"name":"Dlet"},"mark":{"type":"text","font":"Liberation Sans","fontSize":40,"fontWeight":"bold","align":"center","baseline":"middle","color":"#231f20"},
"encoding":{"x":{"field":"d","type":"quantitative","scale":{"domain":[0,35],"nice":false,"zero":false},"axis":null},"y":{"field":"v","type":"quantitative","scale":{"domain":[-0.2,1.4],"nice":false,"zero":false},"axis":null},"text":{"field":"t"}}}
]}
],"spacing":9}
],
"spacing":25,
"config":{
"font":"Liberation Sans",
"view":{"stroke":"#7d89d9","strokeWidth":1.2},
"axis":{"domain":false,"grid":false,"tickColor":"#7d89d9","tickWidth":1,"labelFont":"Liberation Sans","labelFontSize":17,"labelColor":"#231f20","titleFont":"Liberation Sans","titleFontSize":18.5,"titleFontWeight":"normal","titleColor":"#231f20","labelFlush":false,"labelOverlap":false,"labelBound":false}
}
}
